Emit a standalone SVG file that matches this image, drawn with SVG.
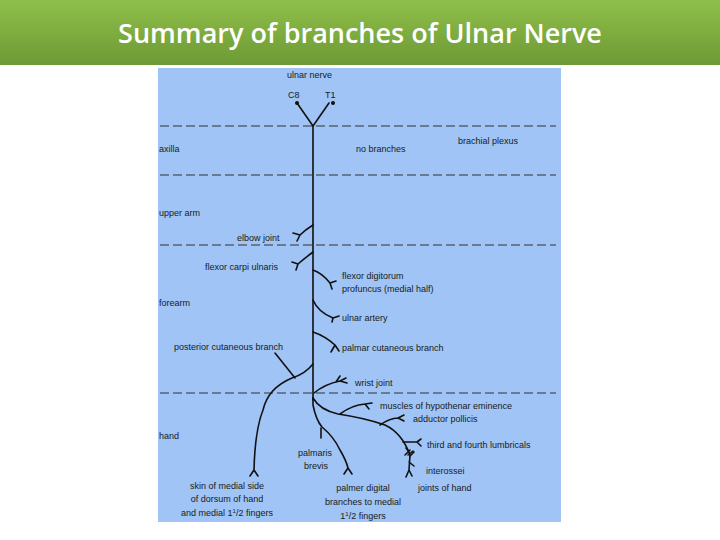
<svg xmlns="http://www.w3.org/2000/svg" width="720" height="540" viewBox="0 0 720 540">
<defs>
<linearGradient id="hg" x1="0" y1="0" x2="0" y2="1"><stop offset="0" stop-color="#8fbf4a"/><stop offset="1" stop-color="#6d9a35"/></linearGradient>
<style>
.t{font-family:"Liberation Sans",Arial,sans-serif;font-size:9px;fill:#1a1a1a}
.n{fill:none;stroke:#111;stroke-width:1.6;stroke-linecap:round;stroke-linejoin:round}
.d{stroke:#333;stroke-width:1.2;stroke-dasharray:9,4}
</style>
</defs>
<rect width="720" height="540" fill="#fff"/>
<rect width="720" height="65" fill="url(#hg)"/>
<text x="360" y="43" text-anchor="middle" font-family="'Open Sans','Liberation Sans',sans-serif" font-size="27" font-weight="600" fill="#fff">Summary of branches of Ulnar Nerve</text>
<rect x="158" y="68" width="403" height="454" fill="#9fc4f5"/>
<g id="dividers">
<line class="d" x1="160" y1="126" x2="556" y2="126"/>
<line class="d" x1="160" y1="175" x2="556" y2="175"/>
<line class="d" x1="160" y1="245" x2="556" y2="245"/>
<line class="d" x1="160" y1="393" x2="556" y2="393"/>
</g>
<g id="connectors">
<path class="n" d="M297 103 L313 126 L329 103"/>
<circle cx="297" cy="103" r="2" fill="#111"/><circle cx="333" cy="103" r="2" fill="#111"/>
<path class="n" d="M313 126 L313 400" stroke-width="3"/>
<path class="n" d="M313 225 Q305 230 300 235 M300 235 L293 233 M300 235 L297 241"/>
<path class="n" d="M313 252 Q305 258 298 264 M298 264 L292 262 M298 264 L296 270"/>
<path class="n" d="M313 270 Q322 273 330 283 M330 283 L336 281 M330 283 L332 289"/>
<path class="n" d="M313 300 Q318 312 333 318 M333 318 L339 316 M333 318 L332 322"/>
<path class="n" d="M313 332 Q325 336 335 345 M335 345 L331 352 M335 345 L339 351"/>
<path class="n" d="M313 364 Q305 374 292 378 Q268 388 263 410 Q255 430 254 470 M254 470 L250 476 M254 470 L258 476"/>
<path class="n" d="M275 353 L295 378" stroke-width="1.1"/>
<path class="n" d="M314 393 Q325 384 340 381 M340 381 L346 378 M340 381 L347 383 M336 382 L340 376"/>
<path class="n" d="M313 398 L313 405 Q316 420 322 427 Q334 437 340 450 Q346 460 348 468 M348 468 L344 474 M348 468 L352 474"/>
<path class="n" d="M321 428 L321 438" stroke-width="1.1"/>
<path class="n" d="M313 398 Q320 410 338 414 Q365 418 385 425 Q402 433 410 455 L409 470 M409 470 L406 477 M409 470 L412 476 M409 462 L414 466"/>
<path class="n" d="M340 414 Q352 405 365 404 M365 404 L372 403 M365 404 L369 409"/>
<path class="n" d="M380 425 Q390 418 398 418 M398 418 L404 415 M398 418 L404 421"/>
<path class="n" d="M403 442 L417 442 M417 442 L421 439 M417 442 L421 446"/>
<path class="n" d="M405 455 L410 450 M408 455 L413 451 M410 456 L414 452 M409 452 L406 448" stroke-width="1.1"/>
</g>
<g id="labels">
<text class="t" x="287" y="78">ulnar nerve</text>
<text class="t" x="288" y="98">C8</text>
<text class="t" x="325" y="98">T1</text>
<text class="t" x="159" y="152">axilla</text>
<text class="t" x="356" y="152">no branches</text>
<text class="t" x="458" y="144">brachial plexus</text>
<text class="t" x="159" y="216">upper arm</text>
<text class="t" x="237" y="241">elbow joint</text>
<text class="t" x="205" y="270">flexor carpi ulnaris</text>
<text class="t" x="342" y="279">flexor digitorum</text>
<text class="t" x="342" y="292">profuncus (medial half)</text>
<text class="t" x="159" y="306">forearm</text>
<text class="t" x="342" y="321">ulnar artery</text>
<text class="t" x="174" y="350">posterior cutaneous branch</text>
<text class="t" x="342" y="351">palmar cutaneous branch</text>
<text class="t" x="355" y="386">wrist joint</text>
<text class="t" x="380" y="409">muscles of hypothenar eminence</text>
<text class="t" x="413" y="422">adductor pollicis</text>
<text class="t" x="159" y="439">hand</text>
<text class="t" x="427" y="448">third and fourth lumbricals</text>
<text class="t" x="298" y="456">palmaris</text>
<text class="t" x="304" y="469">brevis</text>
<text class="t" x="426" y="474">interossei</text>
<text class="t" x="418" y="491">joints of hand</text>
<text class="t" x="227" y="489" text-anchor="middle">skin of medial side</text>
<text class="t" x="227" y="502" text-anchor="middle">of dorsum of hand</text>
<text class="t" x="227" y="516" text-anchor="middle">and medial 1<tspan font-size="6" dy="-3">1</tspan><tspan dy="3">/2 fingers</tspan></text>
<text class="t" x="363" y="491" text-anchor="middle">palmer digital</text>
<text class="t" x="363" y="505" text-anchor="middle">branches to medial</text>
<text class="t" x="363" y="519" text-anchor="middle">1<tspan font-size="6" dy="-3">1</tspan><tspan dy="3">/2 fingers</tspan></text>
</g>
</svg>
